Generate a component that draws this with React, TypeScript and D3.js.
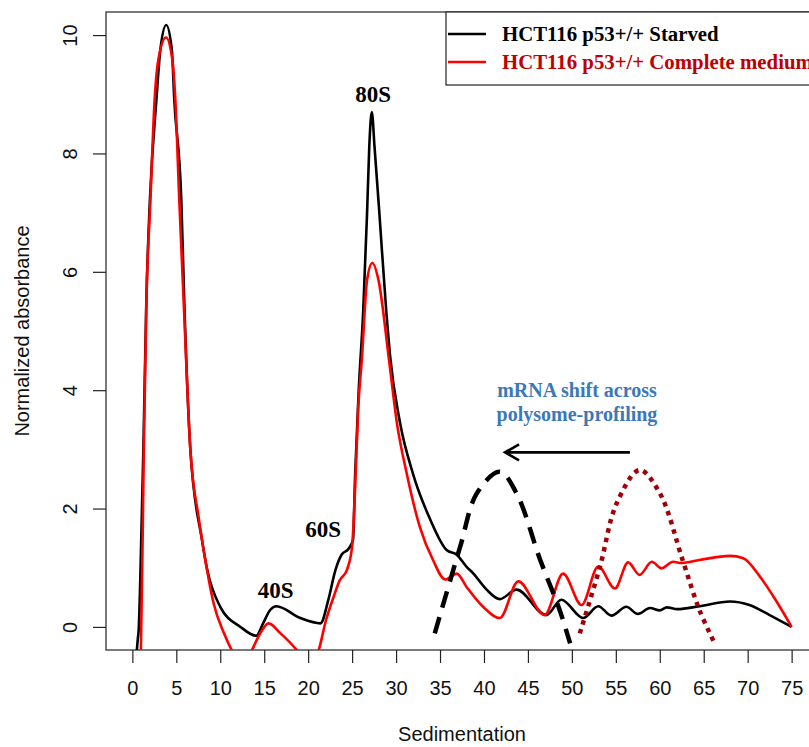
import React, { useEffect, useRef } from "react";
import * as d3 from "d3";

// profile: [sedimentation, normalized absorbance]
const starved: [number, number][] = [
  [0.4, -0.6], [0.62, -0.2], [0.72, -0.05], [0.9, 0.8], [1.25, 2.99], [1.59, 5.52],
  [1.99, 7.2], [2.73, 8.9], [3.18, 9.75], [3.85, 10.17], [4.49, 9.75], [4.77, 8.9],
  [5.57, 7.2], [5.9, 5.52], [6.6, 2.99], [7.92, 1.47], [8.52, 0.96], [10.0, 0.34],
  [12.3, 0.0], [14.1, -0.15], [14.9, 0.07], [15.7, 0.29], [16.4, 0.35], [19.1, 0.15],
  [21.4, 0.06], [22.3, 0.46], [23.1, 0.96], [23.8, 1.22], [24.6, 1.32], [25.1, 1.47],
  [25.35, 2.6], [25.75, 4.0], [26.25, 5.3], [26.7, 6.99], [26.95, 8.11], [27.24, 8.7],
  [27.55, 8.11], [28.1, 6.99], [28.9, 5.3], [29.3, 4.6], [30.45, 3.45], [31.9, 2.6],
  [33.9, 1.81], [35.75, 1.3], [36.9, 1.22], [38.0, 1.02], [38.75, 0.91], [40.3, 0.63],
  [41.8, 0.47], [43.7, 0.63], [47.1, 0.2], [48.8, 0.46], [51.3, 0.15], [53.0, 0.35],
  [54.5, 0.19], [56.2, 0.34], [57.5, 0.22], [58.9, 0.32], [60.0, 0.28], [60.8, 0.33],
  [62.0, 0.3], [64.5, 0.35], [68.0, 0.43], [70.2, 0.37], [72.5, 0.2], [75.0, 0.0]
];

const complete: [number, number][] = [
  [0.9, -0.6], [0.97, -0.39], [1.3, 2.99], [1.6, 5.52], [2.05, 7.2], [2.53, 8.9],
  [2.95, 9.58], [3.83, 9.96], [4.55, 9.58], [4.89, 8.9], [5.34, 7.2], [5.83, 5.52],
  [6.6, 2.99], [7.53, 1.86], [8.3, 1.13], [9.24, 0.4], [10.4, -0.1], [11.3, -0.39],
  [12.5, -0.65], [13.6, -0.39], [14.5, -0.12], [15.5, 0.06], [16.8, -0.1], [18.7, -0.39],
  [20.0, -0.65], [21.2, -0.39], [22.0, 0.1], [22.9, 0.51], [23.6, 0.79], [24.4, 0.96],
  [25.0, 1.36], [25.3, 2.2], [25.7, 3.72], [26.1, 4.51], [26.7, 5.86], [27.3, 6.15],
  [28.0, 5.86], [29.2, 4.51], [30.1, 3.44], [31.2, 2.6], [32.7, 1.69], [34.2, 1.13],
  [35.6, 0.8], [36.9, 0.9], [38.0, 0.68], [39.9, 0.34], [41.8, 0.15], [43.9, 0.77],
  [46.9, 0.2], [49.0, 0.9], [51.1, 0.37], [53.0, 1.02], [54.9, 0.65], [56.4, 1.09],
  [57.7, 0.88], [59.1, 1.1], [60.2, 0.99], [61.5, 1.1], [62.5, 1.08], [64.5, 1.13],
  [68.0, 1.2], [69.5, 1.16], [71.4, 0.85], [73.2, 0.45], [75.0, 0.0]
];

// hand drawn mRNA shift sketch
const shiftStarved: [number, number][] = [
  [34.4, -0.11], [37.3, 1.36], [39.2, 2.26], [41.8, 2.62], [43.7, 2.26], [46.4, 1.13],
  [48.6, 0.29], [49.8, -0.28]
];
const shiftComplete: [number, number][] = [
  [50.9, -0.11], [53.2, 1.02], [55.1, 2.09], [57.7, 2.65], [60.0, 2.26], [62.6, 1.13],
  [64.5, 0.29], [66.25, -0.28]
];
const shiftArrow = { from: 56.6, to: 42.4, y: 2.95 };

const xTicks = [0, 5, 10, 15, 20, 25, 30, 35, 40, 45, 50, 55, 60, 65, 70, 75];
const yTicks = [0, 2, 4, 6, 8, 10];

const peakLabels = [
  { text: "40S", x: 16.3, y: 0.49 },
  { text: "60S", x: 21.7, y: 1.52 },
  { text: "80S", x: 27.4, y: 8.87 }
];
const legendLabels = ["HCT116 p53+/+ Starved", "HCT116 p53+/+ Complete medium"];
const noteLines = ["mRNA shift across", "polysome-profiling"];

export default function App() {
  const ref = useRef<SVGSVGElement>(null);

  useEffect(() => {
    const svg = d3.select(ref.current);
    svg.selectAll("*").remove();

    const left = 106, right = 818, top = 12, bottom = 650;
    const x = d3.scaleLinear().domain([-3, 78]).range([left, right]);
    const y = d3.scaleLinear().domain([-0.39, 10.39]).range([bottom, top]);
    const sans = "'Liberation Sans', Arial, sans-serif";
    const serif = "'Liberation Serif', 'Times New Roman', serif";
    const fs = 20;

    svg.append("defs").append("clipPath").attr("id", "plotclip")
      .append("rect")
      .attr("x", left).attr("y", top)
      .attr("width", right - left).attr("height", bottom - top);

    // x axis
    const xAxis = svg.append("g")
      .attr("transform", "translate(0," + bottom + ")")
      .call(d3.axisBottom(x).tickValues(xTicks).tickSize(13).tickSizeOuter(0).tickPadding(18));
    xAxis.select(".domain").remove();
    xAxis.selectAll("line").attr("stroke", "#222").attr("stroke-width", 1.2);
    xAxis.selectAll("text")
      .attr("font-family", sans).attr("font-size", fs).attr("fill", "#111")
      .attr("dy", "0.71em");

    // y axis with rotated labels
    const yAxis = svg.append("g")
      .attr("transform", "translate(" + left + ",0)")
      .call(d3.axisLeft(y).tickValues(yTicks).tickSize(13).tickSizeOuter(0));
    yAxis.select(".domain").remove();
    yAxis.selectAll("line").attr("stroke", "#222").attr("stroke-width", 1.2);
    yAxis.selectAll("text").remove();
    yAxis.selectAll(".tick").append("text")
      .attr("transform", "translate(-29,0) rotate(-90)")
      .attr("text-anchor", "middle")
      .attr("font-family", sans).attr("font-size", fs).attr("fill", "#111")
      .text(d => String(d));

    // box
    svg.append("rect")
      .attr("x", left).attr("y", top)
      .attr("width", right - left).attr("height", bottom - top)
      .attr("fill", "none").attr("stroke", "#222").attr("stroke-width", 1.2);

    svg.append("text")
      .attr("x", (left + right) / 2).attr("y", 741)
      .attr("text-anchor", "middle")
      .attr("font-family", sans).attr("font-size", fs).attr("fill", "#111")
      .text("Sedimentation");
    svg.append("text")
      .attr("transform", "translate(29," + (top + bottom) / 2 + ") rotate(-90)")
      .attr("text-anchor", "middle")
      .attr("font-family", sans).attr("font-size", fs).attr("fill", "#111")
      .text("Normalized absorbance");

    const plot = svg.append("g").attr("clip-path", "url(#plotclip)");
    const line = d3.line<[number, number]>()
      .x(d => x(d[0])).y(d => y(d[1]))
      .curve(d3.curveMonotoneX);
    const sketch = d3.line<[number, number]>()
      .x(d => x(d[0])).y(d => y(d[1]))
      .curve(d3.curveCatmullRom);

    plot.append("path").attr("d", line(starved))
      .attr("fill", "none").attr("stroke", "#000").attr("stroke-width", 2.6);
    plot.append("path").attr("d", line(complete))
      .attr("fill", "none").attr("stroke", "#ff0000").attr("stroke-width", 2.6);

    plot.append("path").attr("d", sketch(shiftStarved))
      .attr("fill", "none").attr("stroke", "#000").attr("stroke-width", 4.5)
      .attr("stroke-dasharray", "17 10");
    plot.append("path").attr("d", sketch(shiftComplete))
      .attr("fill", "none").attr("stroke", "#a00008").attr("stroke-width", 4.5)
      .attr("stroke-dasharray", "4.5 5");

    // arrow
    const ax0 = x(shiftArrow.from), ax1 = x(shiftArrow.to), ay = y(shiftArrow.y);
    svg.append("line")
      .attr("x1", ax0).attr("x2", ax1).attr("y1", ay).attr("y2", ay)
      .attr("stroke", "#000").attr("stroke-width", 2.6);
    svg.append("path")
      .attr("d", "M" + (ax1 + 14) + "," + (ay - 8) + "L" + ax1 + "," + ay + "L" + (ax1 + 14) + "," + (ay + 8))
      .attr("fill", "none").attr("stroke", "#000").attr("stroke-width", 2.6);

    // peak names
    svg.selectAll(".peak").data(peakLabels).enter().append("text")
      .attr("x", d => x(d.x)).attr("y", d => y(d.y))
      .attr("text-anchor", "middle")
      .attr("font-family", serif).attr("font-weight", "bold").attr("font-size", 23)
      .attr("fill", "#000")
      .text(d => d.text);

    svg.selectAll(".note").data(noteLines).enter().append("text")
      .attr("x", 577).attr("y", (d, i) => 397 + i * 24)
      .attr("text-anchor", "middle")
      .attr("font-family", serif).attr("font-weight", "bold").attr("font-size", 20)
      .attr("fill", "#3b78b9")
      .text(d => d);

    // legend
    svg.append("rect")
      .attr("x", 446).attr("y", top).attr("width", 400).attr("height", 73)
      .attr("fill", "#fff").attr("stroke", "#222").attr("stroke-width", 1.2);
    const legendColors = ["#000", "#ff0000"];
    const textColors = ["#000", "#c00000"];
    legendLabels.forEach((label, i) => {
      const ly = 34 + i * 28;
      svg.append("line")
        .attr("x1", 448).attr("x2", 486).attr("y1", ly).attr("y2", ly)
        .attr("stroke", legendColors[i]).attr("stroke-width", 2.6);
      svg.append("text")
        .attr("x", 502).attr("y", ly + 7)
        .attr("font-family", serif).attr("font-weight", "bold").attr("font-size", 20.8)
        .attr("fill", textColors[i])
        .text(label);
    });
  }, []);

  return (
    <svg
      ref={ref}
      width={809}
      height={747}
      style={{ position: "absolute", left: 0, top: 0, background: "#fff" }}
    />
  );
}
